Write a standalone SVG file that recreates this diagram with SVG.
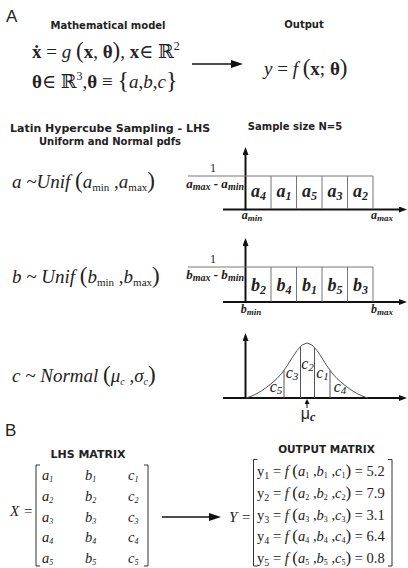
<svg xmlns="http://www.w3.org/2000/svg" width="408" height="568" viewBox="0 0 408 568">
<style>
.lbl{font-family:"Liberation Sans",Arial,sans-serif;font-size:17px;fill:#222}
.hd{font-family:"DejaVu Sans",Verdana,sans-serif;font-weight:bold;fill:#222}
.m{font-family:"Liberation Serif","DejaVu Serif",serif;fill:#222}
.i{font-style:italic}
.b{font-weight:bold}
.bi{font-family:"Liberation Serif","DejaVu Serif",serif;font-style:italic;font-weight:bold;fill:#222}
.axis{stroke:#111;stroke-width:2;fill:none}
.box{stroke:#777;stroke-width:1;fill:none}
.curve{stroke:#555;stroke-width:1;fill:none;stroke-linejoin:round}
.brk{stroke:#333;stroke-width:1;fill:none}
.conn{stroke:#111;stroke-width:1.5;fill:none}
</style>
<defs>
<marker id="ah" viewBox="0 0 12 8" refX="3" refY="4" markerWidth="12" markerHeight="8" markerUnits="userSpaceOnUse" orient="auto"><path d="M0,0 L12,4 L0,8 z" fill="#111"/></marker>
<marker id="ax" viewBox="0 0 8 6" refX="2" refY="3" markerWidth="8" markerHeight="6" markerUnits="userSpaceOnUse" orient="auto"><path d="M0,0 L8,3 L0,6 z" fill="#111"/></marker>
<marker id="mu" viewBox="0 0 5 5" refX="1" refY="2.5" markerWidth="5" markerHeight="5" markerUnits="userSpaceOnUse" orient="auto"><path d="M0,0 L5,2.5 L0,5 z" fill="#111"/></marker>
</defs>

<text class="lbl" x="6" y="22">A</text>
<text class="lbl" x="5" y="436">B</text>

<g id="model">
<text class="hd" x="108" y="29" font-size="10" text-anchor="middle">Mathematical model</text>
<text class="m" x="32" y="58" font-size="19"><tspan class="b">ẋ</tspan> = <tspan class="i">g</tspan> <tspan font-size="23">(</tspan><tspan class="b">x</tspan>, <tspan class="b">θ</tspan><tspan font-size="23">)</tspan>, <tspan class="b">x</tspan>∈ ℝ<tspan font-size="12" dy="-8">2</tspan></text>
<text class="m" x="32" y="88" font-size="19"><tspan class="b">θ</tspan>∈ ℝ<tspan font-size="12" dy="-8">3</tspan><tspan dy="8">,</tspan><tspan class="b">θ</tspan> ≡ <tspan font-size="24">{</tspan><tspan class="i">a</tspan>,<tspan class="i">b</tspan>,<tspan class="i">c</tspan><tspan font-size="24">}</tspan></text>
</g>

<g id="output">
<text class="hd" x="304" y="28" font-size="10" text-anchor="middle">Output</text>
<text class="m" x="264" y="75" font-size="19"><tspan class="i">y</tspan> = <tspan class="i">f</tspan> <tspan font-size="23">(</tspan><tspan class="b">x</tspan>; <tspan class="b">θ</tspan><tspan font-size="23">)</tspan></text>
</g>

<g id="lhs-header">
<text class="hd" x="10" y="132" font-size="11">Latin Hypercube Sampling - LHS</text>
<text class="hd" x="110" y="145" font-size="10" text-anchor="middle">Uniform and Normal pdfs</text>
<text class="hd" x="295" y="130" font-size="10" text-anchor="middle">Sample size N=5</text>
</g>

<g id="dist-a">
<text class="m" x="12" y="188" font-size="19"><tspan class="i">a ~Unif </tspan><tspan font-size="23">(</tspan><tspan class="i">a</tspan><tspan font-size="11" dy="3">min</tspan><tspan dy="-3"> ,</tspan><tspan class="i">a</tspan><tspan font-size="11" dy="3">max</tspan><tspan dy="-3" font-size="23">)</tspan></text>
</g>
<g id="graph-a">
<line class="axis" x1="223" y1="209.5" x2="401" y2="209.5" marker-end="url(#ax)"/>
<line class="axis" x1="245.5" y1="210.5" x2="245.5" y2="153" marker-end="url(#ax)"/>
<path class="box" d="M188,176 H373 V209 M271,176 V209 M296.5,176 V209 M322,176 V209 M347.5,176 V209"/>
<text class="m" x="213" y="172" font-size="12" text-anchor="middle">1</text>
<text class="bi" x="244" y="187.5" font-size="13" text-anchor="end">a<tspan font-size="10" dy="2">max</tspan><tspan dy="-2"> - a</tspan><tspan font-size="10" dy="2">min</tspan></text>
<text class="bi" x="258.5" y="197" font-size="18" text-anchor="middle">a<tspan font-size="12" dy="3">4</tspan></text>
<text class="bi" x="284" y="197" font-size="18" text-anchor="middle">a<tspan font-size="12" dy="3">1</tspan></text>
<text class="bi" x="309.5" y="197" font-size="18" text-anchor="middle">a<tspan font-size="12" dy="3">5</tspan></text>
<text class="bi" x="335" y="197" font-size="18" text-anchor="middle">a<tspan font-size="12" dy="3">3</tspan></text>
<text class="bi" x="360.5" y="197" font-size="18" text-anchor="middle">a<tspan font-size="12" dy="3">2</tspan></text>
<text class="bi" x="252" y="219" font-size="12" text-anchor="middle">a<tspan font-size="9" dy="2">min</tspan></text>
<text class="bi" x="382" y="219" font-size="12" text-anchor="middle">a<tspan font-size="9" dy="2">max</tspan></text>
</g>

<g id="dist-b">
<text class="m" x="12" y="283" font-size="19"><tspan class="i">b ~ Unif </tspan><tspan font-size="23">(</tspan><tspan class="i">b</tspan><tspan font-size="11" dy="3">min</tspan><tspan dy="-3"> ,</tspan><tspan class="i">b</tspan><tspan font-size="11" dy="3">max</tspan><tspan dy="-3" font-size="23">)</tspan></text>
</g>
<g id="graph-b">
<line class="axis" x1="223" y1="302" x2="401" y2="302" marker-end="url(#ax)"/>
<line class="axis" x1="245.5" y1="303" x2="245.5" y2="244" marker-end="url(#ax)"/>
<path class="box" d="M188,267 H373 V301.5 M271,267 V301.5 M296.5,267 V301.5 M322,267 V301.5 M347.5,267 V301.5"/>
<text class="m" x="213" y="263" font-size="12" text-anchor="middle">1</text>
<text class="bi" x="244" y="278.5" font-size="13" text-anchor="end">b<tspan font-size="10" dy="2">max</tspan><tspan dy="-2"> - b</tspan><tspan font-size="10" dy="2">min</tspan></text>
<text class="bi" x="258.5" y="291" font-size="18" text-anchor="middle">b<tspan font-size="12" dy="3">2</tspan></text>
<text class="bi" x="284" y="291" font-size="18" text-anchor="middle">b<tspan font-size="12" dy="3">4</tspan></text>
<text class="bi" x="309.5" y="291" font-size="18" text-anchor="middle">b<tspan font-size="12" dy="3">1</tspan></text>
<text class="bi" x="335" y="291" font-size="18" text-anchor="middle">b<tspan font-size="12" dy="3">5</tspan></text>
<text class="bi" x="360.5" y="291" font-size="18" text-anchor="middle">b<tspan font-size="12" dy="3">3</tspan></text>
<text class="bi" x="251" y="313" font-size="12" text-anchor="middle">b<tspan font-size="9" dy="2">min</tspan></text>
<text class="bi" x="382" y="313" font-size="12" text-anchor="middle">b<tspan font-size="9" dy="2">max</tspan></text>
</g>

<g id="dist-c">
<text class="m" x="12" y="382" font-size="19"><tspan class="i">c ~ Normal </tspan><tspan font-size="23">(</tspan><tspan class="i">μ</tspan><tspan class="i" font-size="10" dy="3">c</tspan><tspan dy="-3"> ,</tspan><tspan class="i">σ</tspan><tspan class="i" font-size="10" dy="3">c</tspan><tspan dy="-3" font-size="23">)</tspan></text>
</g>
<g id="graph-c">
<line class="axis" x1="223" y1="398" x2="401" y2="398" marker-end="url(#ax)"/>
<line class="axis" x1="245.5" y1="399" x2="245.5" y2="339" marker-end="url(#ax)"/>
<polyline class="curve" points="246,398 252,396 257,393.5 262,390.5 267,387 272,383 277,378.5 282,373 287,366 292,358 297,350.5 302,345 307,343 312,345 317,350.5 322,358 327,366 332,373 337,378.5 342,383 347,387 352,390.5 357,393.5 362,396 368,398"/>
<path class="curve" d="M284,370.2 V398 M300.5,346.5 V398 M314.5,347.8 V398 M330,370.2 V398"/>
<text class="m i" x="276" y="392" font-size="16" text-anchor="middle">c<tspan font-size="11" dy="2">5</tspan></text>
<text class="m i" x="292" y="378" font-size="16" text-anchor="middle">c<tspan font-size="11" dy="2">3</tspan></text>
<text class="m i" x="307.5" y="369" font-size="16" text-anchor="middle">c<tspan font-size="11" dy="2">2</tspan></text>
<text class="m i" x="322.5" y="378" font-size="16" text-anchor="middle">c<tspan font-size="11" dy="2">1</tspan></text>
<text class="m i" x="340" y="392" font-size="16" text-anchor="middle">c<tspan font-size="11" dy="2">4</tspan></text>
<line stroke="#111" stroke-width="1" x1="307" y1="408" x2="307" y2="403" marker-end="url(#mu)"/>
<text x="308" y="419" font-size="16" text-anchor="middle" fill="#222"><tspan font-family="Liberation Sans,sans-serif">μ</tspan><tspan class="bi" font-size="12" dy="2">c</tspan></text>
</g>

<g id="lhs-matrix">
<text class="hd" x="88" y="458" font-size="11" text-anchor="middle">LHS MATRIX</text>
<text class="m i" x="10" y="516" font-size="15">X =</text>
<path class="brk" d="M40,465 H36 V566 H40 M144,465 H148 V566 H144"/>
<g class="m i" font-size="14.5">
<text x="42" y="480">a<tspan font-size="8" dy="2">1</tspan></text>
<text x="85" y="480">b<tspan font-size="8" dy="2">1</tspan></text>
<text x="128" y="480">c<tspan font-size="8" dy="2">1</tspan></text>
<text x="42" y="500.5">a<tspan font-size="8" dy="2">2</tspan></text>
<text x="85" y="500.5">b<tspan font-size="8" dy="2">2</tspan></text>
<text x="128" y="500.5">c<tspan font-size="8" dy="2">2</tspan></text>
<text x="42" y="521.5">a<tspan font-size="8" dy="2">3</tspan></text>
<text x="85" y="521.5">b<tspan font-size="8" dy="2">3</tspan></text>
<text x="128" y="521.5">c<tspan font-size="8" dy="2">3</tspan></text>
<text x="42" y="542">a<tspan font-size="8" dy="2">4</tspan></text>
<text x="85" y="542">b<tspan font-size="8" dy="2">4</tspan></text>
<text x="128" y="542">c<tspan font-size="8" dy="2">4</tspan></text>
<text x="42" y="563">a<tspan font-size="8" dy="2">5</tspan></text>
<text x="85" y="563">b<tspan font-size="8" dy="2">5</tspan></text>
<text x="128" y="563">c<tspan font-size="8" dy="2">5</tspan></text>
</g>
</g>

<g id="connectors">
<line class="conn" x1="192" y1="64" x2="234" y2="64" marker-end="url(#ah)"/>
<line class="conn" x1="162" y1="517" x2="212" y2="517" marker-end="url(#ah)"/>
</g>

<g id="output-matrix">
<text class="hd" x="326.5" y="453" font-size="10.5" text-anchor="middle">OUTPUT MATRIX</text>
<text class="m i" x="229" y="522" font-size="15">Y =</text>
<path class="brk" d="M257.5,459.5 H253.5 V566 H257.5 M388,459.5 H392 V566 H388"/>
<g class="m" font-size="14.5">
<text x="257" y="476">y<tspan font-size="10" dy="3">1</tspan><tspan dy="-3"> = </tspan><tspan class="i">f</tspan> <tspan font-size="17">(</tspan><tspan class="i">a</tspan><tspan font-size="8" dy="2">1</tspan><tspan dy="-2"> ,</tspan><tspan class="i">b</tspan><tspan font-size="8" dy="2">1</tspan><tspan dy="-2"> ,</tspan><tspan class="i">c</tspan><tspan font-size="8" dy="2">1</tspan><tspan dy="-2" font-size="17">)</tspan> = 5.2</text>
<text x="257" y="498">y<tspan font-size="10" dy="3">2</tspan><tspan dy="-3"> = </tspan><tspan class="i">f</tspan> <tspan font-size="17">(</tspan><tspan class="i">a</tspan><tspan font-size="8" dy="2">2</tspan><tspan dy="-2"> ,</tspan><tspan class="i">b</tspan><tspan font-size="8" dy="2">2</tspan><tspan dy="-2"> ,</tspan><tspan class="i">c</tspan><tspan font-size="8" dy="2">2</tspan><tspan dy="-2" font-size="17">)</tspan> = 7.9</text>
<text x="257" y="520">y<tspan font-size="10" dy="3">3</tspan><tspan dy="-3"> = </tspan><tspan class="i">f</tspan> <tspan font-size="17">(</tspan><tspan class="i">a</tspan><tspan font-size="8" dy="2">3</tspan><tspan dy="-2"> ,</tspan><tspan class="i">b</tspan><tspan font-size="8" dy="2">3</tspan><tspan dy="-2"> ,</tspan><tspan class="i">c</tspan><tspan font-size="8" dy="2">3</tspan><tspan dy="-2" font-size="17">)</tspan> = 3.1</text>
<text x="257" y="541">y<tspan font-size="10" dy="3">4</tspan><tspan dy="-3"> = </tspan><tspan class="i">f</tspan> <tspan font-size="17">(</tspan><tspan class="i">a</tspan><tspan font-size="8" dy="2">4</tspan><tspan dy="-2"> ,</tspan><tspan class="i">b</tspan><tspan font-size="8" dy="2">4</tspan><tspan dy="-2"> ,</tspan><tspan class="i">c</tspan><tspan font-size="8" dy="2">4</tspan><tspan dy="-2" font-size="17">)</tspan> = 6.4</text>
<text x="257" y="563">y<tspan font-size="10" dy="3">5</tspan><tspan dy="-3"> = </tspan><tspan class="i">f</tspan> <tspan font-size="17">(</tspan><tspan class="i">a</tspan><tspan font-size="8" dy="2">5</tspan><tspan dy="-2"> ,</tspan><tspan class="i">b</tspan><tspan font-size="8" dy="2">5</tspan><tspan dy="-2"> ,</tspan><tspan class="i">c</tspan><tspan font-size="8" dy="2">5</tspan><tspan dy="-2" font-size="17">)</tspan> = 0.8</text>
</g>
</g>
</svg>
